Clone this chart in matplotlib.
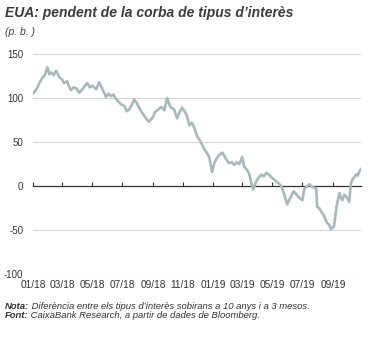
import matplotlib
matplotlib.use("Agg")
import matplotlib.pyplot as plt
import matplotlib.dates as mdates
import pandas as pd

plt.rcParams["font.family"] = ["Liberation Sans", "DejaVu Sans"]

# pendent de la corba (10 anys - 3 mesos), llegit del gr\u00e0fic
dates = ["2018-01-01", "2018-01-05", "2018-01-08", "2018-01-13", "2018-01-20",
         "2018-01-25", "2018-01-30", "2018-02-03", "2018-02-07", "2018-02-12",
         "2018-02-17", "2018-02-23", "2018-03-01", "2018-03-05", "2018-03-11",
         "2018-03-15", "2018-03-19", "2018-03-24", "2018-03-30", "2018-04-05",
         "2018-04-10", "2018-04-15", "2018-04-21", "2018-04-26", "2018-05-01",
         "2018-05-09", "2018-05-15", "2018-05-21", "2018-05-29", "2018-06-03",
         "2018-06-08", "2018-06-13", "2018-06-18", "2018-06-23", "2018-06-28",
         "2018-07-05", "2018-07-10", "2018-07-15", "2018-07-20", "2018-07-25",
         "2018-07-30", "2018-08-04", "2018-08-09", "2018-08-14", "2018-08-19",
         "2018-08-24", "2018-09-01", "2018-09-05", "2018-09-10", "2018-09-18",
         "2018-09-24", "2018-09-30", "2018-10-04", "2018-10-08", "2018-10-14",
         "2018-10-20", "2018-10-25", "2018-10-30", "2018-11-04", "2018-11-08",
         "2018-11-14", "2018-11-19", "2018-11-24", "2018-11-30", "2018-12-04",
         "2018-12-08", "2018-12-14", "2018-12-19", "2018-12-24", "2018-12-30",
         "2019-01-04", "2019-01-09", "2019-01-13", "2019-01-20", "2019-01-24",
         "2019-01-29", "2019-02-02", "2019-02-08", "2019-02-13", "2019-02-18",
         "2019-02-23", "2019-03-01", "2019-03-05", "2019-03-11", "2019-03-15",
         "2019-03-19", "2019-03-23", "2019-03-29", "2019-04-04", "2019-04-09",
         "2019-04-14", "2019-04-19", "2019-04-24", "2019-04-29", "2019-05-04",
         "2019-05-09", "2019-05-14", "2019-05-19", "2019-05-25", "2019-05-31",
         "2019-06-04", "2019-06-08", "2019-06-13", "2019-06-18", "2019-06-24",
         "2019-07-01", "2019-07-05", "2019-07-09", "2019-07-15", "2019-07-21",
         "2019-07-26", "2019-07-29", "2019-07-31", "2019-08-04", "2019-08-08",
         "2019-08-14", "2019-08-17", "2019-08-20", "2019-08-24", "2019-08-28",
         "2019-09-03", "2019-09-08", "2019-09-14", "2019-09-17", "2019-09-20",
         "2019-09-24", "2019-09-28", "2019-10-04", "2019-10-07", "2019-10-10",
         "2019-10-14", "2019-10-18", "2019-10-21", "2019-10-24", "2019-10-29"]
values = [105, 108, 110, 116, 123,
          126, 135, 127, 129, 126,
          131, 124, 121, 117, 119,
          113, 109, 112, 111, 106,
          109, 113, 117, 112, 114,
          110, 118, 111, 101, 105,
          102, 104, 99, 96, 93,
          91, 85, 87, 92, 98,
          95, 89, 84, 80, 76,
          73, 78, 84, 86, 90,
          86, 100, 93, 89, 87,
          77, 84, 89, 85, 81,
          69, 72, 66, 56, 53,
          49, 42, 38, 33, 16,
          27, 32, 35, 38, 34,
          29, 26, 27, 24, 27,
          25, 33, 22, 18, 14,
          5, -4, 5, 10, 13,
          11, 15, 13, 10, 8,
          5, 3, 0, -9, -21,
          -16, -12, -6, -9, -13,
          -16, -3, -1, 2, -1,
          -2, -3, -24, -25, -29,
          -34, -38, -42, -44, -49,
          -46, -24, -8, -13, -16,
          -10, -12, -18, 2, 7,
          10, 13, 12, 16, 20]

tick_dates = ["2018-01-01", "2018-03-01", "2018-05-01", "2018-07-01", "2018-09-01",
              "2018-11-01", "2019-01-01", "2019-03-01", "2019-05-01", "2019-07-01",
              "2019-09-01"]
y_ticks = [-100, -50, 0, 50, 100, 150]

x = pd.to_datetime(dates)
xt = pd.to_datetime(tick_dates)

fig = plt.figure(figsize=(3.75, 3.38), dpi=100)
ax = fig.add_axes([0.088, 0.1893, 0.875, 0.6509])

for yv in y_ticks:
    if yv != 0:
        ax.axhline(yv, color="#d4d4d4", lw=0.8, zorder=0)

ax.plot(x, values, color="#a9b9bb", lw=1.9, zorder=3)

ax.set_xlim(pd.Timestamp("2018-01-01"), pd.Timestamp("2019-10-28"))
ax.set_ylim(-100, 150)
ax.set_yticks(y_ticks)
ax.set_yticklabels([str(v) for v in y_ticks], fontsize=7, color="#333333")
ax.tick_params(axis="y", length=0, pad=7)

# eix a zero amb marques cap amunt
for s in ["top", "right", "left"]:
    ax.spines[s].set_visible(False)
ax.spines["bottom"].set_position(("data", 0))
ax.spines["bottom"].set_color("#333333")
ax.spines["bottom"].set_linewidth(0.9)
ax.spines["bottom"].set_zorder(2)
ax.set_xticks(xt)
ax.tick_params(axis="x", direction="in", length=3, width=0.8, color="#333333",
               labelbottom=False)

# etiquetes de l'eix x a baix
sec = ax.secondary_xaxis(-0.004)
sec.set_xticks(xt)
sec.xaxis.set_major_formatter(mdates.DateFormatter("%m/%y"))
sec.tick_params(axis="x", length=0, labelsize=7.3, labelcolor="#333333", pad=4)
sec.spines["bottom"].set_visible(False)

fig.text(0.013, 0.962, "EUA: pendent de la corba de tipus d\u2019inter\u00e8s",
         fontsize=10, fontweight="bold", style="italic", color="#3c3c3c",
         va="center", ha="left")
fig.text(0.013, 0.905, "(p. b. )", fontsize=7.5, style="italic", color="#3c3c3c",
         va="center", ha="left")

renderer = fig.canvas.get_renderer()
notes = [("Nota:", " Difer\u00e8ncia entre els tipus d\u2019inter\u00e8s sobirans a 10 anys i a 3 mesos.", 0.094),
         ("Font:", " CaixaBank Research, a partir de dades de Bloomberg.", 0.068)]
for head, body, yy in notes:
    t = fig.text(0.013, yy, head, fontsize=6.8, fontweight="bold", style="italic",
                 color="#333333", va="center", ha="left")
    w = t.get_window_extent(renderer).width / fig.bbox.width
    fig.text(0.013 + w, yy, body, fontsize=6.8, style="italic",
             color="#333333", va="center", ha="left")

plt.savefig("out.png", dpi=100)
